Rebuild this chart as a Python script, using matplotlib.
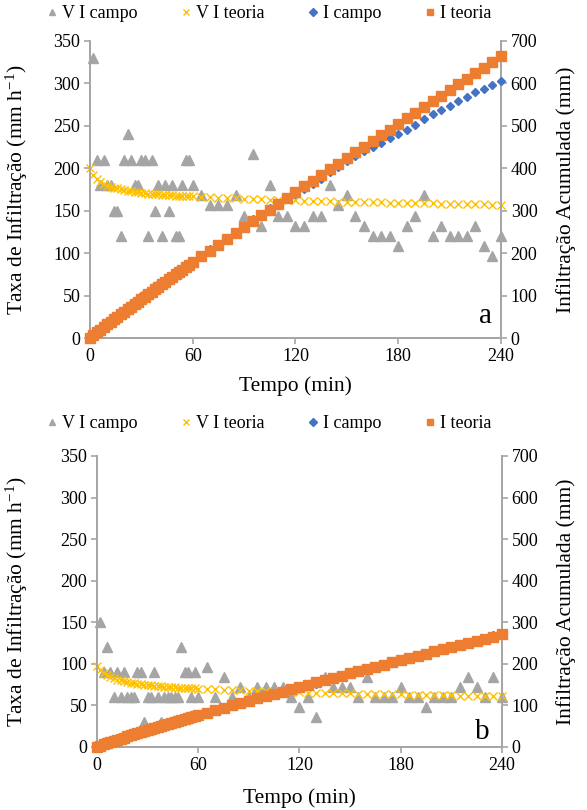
import matplotlib
matplotlib.use("Agg")
import matplotlib.pyplot as plt
from matplotlib.lines import Line2D

plt.rcParams["font.family"] = "serif"
plt.rcParams["font.serif"] = ["Liberation Serif", "DejaVu Serif"]
plt.rcParams["mathtext.fontset"] = "custom"
plt.rcParams["mathtext.rm"] = "Liberation Serif"
plt.rcParams["mathtext.it"] = "Liberation Serif:italic"

# -------------------------
# Data
# -------------------------
# field readings: every 2 min up to 60, then every 5 min
t_campo = list(range(2, 62, 2)) + list(range(65, 245, 5))
# theory curves: from 0, every 2 min up to 60, then every 5 min
t_teoria = list(range(0, 62, 2)) + list(range(65, 245, 5))

# panel a
vi_campo_a = [330, 210, 180, 210, 180, 180, 150, 150, 120, 210,
              240, 210, 180, 180, 210, 210, 120, 210, 150, 180,
              120, 180, 150, 180, 120, 120, 180, 210, 210, 180,
              168, 156, 156, 156, 168, 144, 216, 132, 180, 144,
              144, 132, 132, 144, 144, 180, 156, 168, 144, 132,
              120, 120, 120, 108, 132, 144, 168, 120, 132, 120,
              120, 120, 132, 108, 96, 120]
i_campo_a = [11, 18, 24, 31, 37, 43, 48, 53, 57, 64,
             72, 79, 85, 91, 98, 105, 109, 116, 121, 127,
             131, 137, 142, 148, 152, 156, 162, 169, 176, 182,
             196, 209, 222, 235, 249, 261, 279, 290, 305, 317,
             329, 340, 351, 363, 375, 390, 403, 417, 429, 440,
             450, 460, 470, 479, 490, 502, 516, 526, 537, 547,
             557, 567, 578, 587, 595, 605]
vi_teoria_a = [200, 192, 187, 184, 181, 179, 178, 177, 176, 175,
               174, 173, 172.5, 172, 171.5, 171, 170.5, 170, 169.7, 169.4,
               169, 168.7, 168.4, 168.1, 167.8, 167.5, 167.3, 167.1, 166.9, 166.7,
               166.5, 166, 165.5, 165, 164.6, 164.2, 163.8, 163.5, 163.2, 162.9,
               162.6, 162.3, 162, 161.7, 161.4, 161.1, 160.8, 160.5, 160.3, 160.1,
               159.9, 159.7, 159.5, 159.3, 159.1, 158.9, 158.7, 158.5, 158.3, 158.1,
               157.9, 157.7, 157.5, 157.3, 157.1, 156.9, 156.7]
i_teoria_a = [0, 6.6, 13, 19.4, 25.6, 31.8, 37.9, 44, 50, 56,
              62, 68, 74, 79.9, 85.8, 91.7, 97.6, 103.4, 109.2, 115,
              120.8, 126.6, 132.4, 138.1, 143.8, 149.5, 155.2, 160.9, 166.6, 172.3,
              178, 191.9, 205.8, 219.6, 233.4, 247.2, 261, 274.8, 288.5, 302.2,
              315.9, 329.6, 343.3, 357, 370.4, 383.7, 397, 410.3, 423.6, 436.9,
              450.2, 463.5, 476.8, 490.1, 503.4, 516.7, 530, 543.3, 556.6, 569.9,
              583.2, 596.5, 609.8, 623.1, 636.4, 649.7, 663]

# panel b
vi_campo_b = [150, 90, 120, 90, 60, 90, 60, 90, 60, 60,
              60, 90, 90, 30, 60, 60, 90, 60, 30, 60,
              60, 60, 60, 60, 120, 90, 90, 60, 90, 60,
              96, 60, 84, 60, 72, 60, 72, 72, 72, 72,
              60, 48, 60, 36, 84, 72, 72, 72, 60, 84,
              60, 60, 60, 72, 60, 60, 48, 60, 60, 60,
              72, 84, 72, 60, 84, 60]
i_campo_b = [5, 8, 12, 15, 17, 20, 22, 25, 27, 29,
             31, 34, 37, 38, 40, 42, 45, 47, 48, 50,
             52, 54, 56, 58, 62, 65, 68, 70, 73, 75,
             83, 88, 95, 100, 106, 111, 117, 123, 129, 135,
             140, 144, 149, 152, 159, 165, 171, 177, 182, 189,
             194, 199, 204, 210, 215, 220, 224, 229, 234, 239,
             245, 252, 258, 263, 270, 275]
vi_teoria_b = [97, 92, 88.5, 86, 84, 82.5, 81, 80, 79, 78.2,
               77.5, 76.8, 76.2, 75.6, 75.1, 74.6, 74.2, 73.8, 73.4, 73,
               72.7, 72.4, 72.1, 71.8, 71.5, 71.3, 71, 70.8, 70.6, 70.4,
               70.2, 69.7, 69.2, 68.8, 68.4, 68, 67.6, 67.3, 67, 66.7,
               66.4, 66.1, 65.8, 65.5, 65.3, 65.1, 64.9, 64.7, 64.5, 64.3,
               64.1, 63.9, 63.7, 63.5, 63.3, 63.1, 62.9, 62.7, 62.5, 62.3,
               62.1, 61.9, 61.7, 61.5, 61.3, 61.1, 60.9]
i_teoria_b = [0, 3.2, 6.2, 9.1, 11.9, 14.7, 17.4, 20.1, 22.8, 25.4,
              28, 30.6, 33.1, 35.6, 38.1, 40.6, 43.1, 45.6, 48.1, 50.5,
              52.9, 55.3, 57.7, 60.1, 62.5, 64.9, 67.3, 69.7, 72.1, 74.5,
              76.8, 82.6, 88.4, 94.1, 99.8, 105.5, 111.1, 116.7, 122.3, 127.9,
              133.4, 138.9, 144.4, 149.9, 155.3, 160.7, 166.1, 171.5, 176.9, 182.3,
              187.6, 192.9, 198.2, 203.5, 208.8, 214.1, 219.3, 224.5, 229.7, 234.9,
              240.1, 245.3, 250.4, 255.5, 260.6, 265.7, 271.5]

x_ticks = [0, 60, 120, 180, 240]
left_ticks = [0, 50, 100, 150, 200, 250, 300, 350]
right_ticks = [0, 100, 200, 300, 400, 500, 600, 700]

C_TRI = "#A5A5A5"
C_X = "#FFC000"
C_DIA = "#4472C4"
C_SQ = "#ED7D31"
C_AX = "#A6A6A6"
FS = 13      # ticks and legend
FS_LAB = 15.5  # axis titles

fig = plt.figure(figsize=(5.87, 8.10), dpi=100)


def draw_panel(rect, vc, vt, ic, it, letter, letter_xy):
    ax = fig.add_axes(rect)
    ax2 = ax.twinx()

    ax.plot(t_campo, vc, ls="none", marker="^", ms=6.5, color=C_TRI,
            mec=C_TRI, clip_on=False, zorder=3)
    ax.plot(t_teoria, vt, ls="none", marker="x", ms=5.5, mew=1.0,
            color=C_X, clip_on=False, zorder=4)
    ax2.plot(t_campo, ic, ls="none", marker="D", ms=4.2, color=C_DIA,
             clip_on=False, zorder=3)
    ax2.plot(t_teoria, it, ls="none", marker="s", ms=6.5, color=C_SQ,
             clip_on=False, zorder=4)

    ax.set_xlim(0, 240)
    ax.set_ylim(0, 350)
    ax2.set_ylim(0, 700)
    ax.set_xticks(x_ticks)
    ax.set_yticks(left_ticks)
    ax2.set_yticks(right_ticks)

    for a in (ax, ax2):
        a.spines["top"].set_visible(False)
        for s in ("left", "right", "bottom"):
            a.spines[s].set_color(C_AX)
            a.spines[s].set_linewidth(1.3)
        a.tick_params(colors=C_AX, labelcolor="black", labelsize=FS,
                      length=4, width=1.2, direction="out", pad=3)

    ax.set_xlabel("Tempo (min)", fontsize=FS_LAB)
    ax.set_ylabel("Taxa de Infiltração (mm h$^{-1}$)", fontsize=FS_LAB)
    ax2.set_ylabel("Infiltração Acumulada (mm)", fontsize=FS_LAB)
    ax.text(letter_xy[0], letter_xy[1], letter, transform=ax.transAxes,
            fontsize=21, ha="right", va="baseline")
    return ax, ax2


ax_a, ax2_a = draw_panel([0.1533, 0.5827, 0.7002, 0.3673],
                         vi_campo_a, vi_teoria_a, i_campo_a, i_teoria_a,
                         "a", (0.978, 0.05))
ax_b, ax2_b = draw_panel([0.1652, 0.0778, 0.6898, 0.3593],
                         vi_campo_b, vi_teoria_b, i_campo_b, i_teoria_b,
                         "b", (0.97, 0.028))

ax_a.yaxis.set_label_coords(-0.146, 0.5)
ax2_a.yaxis.set_label_coords(1.134, 0.5)
ax_a.xaxis.set_label_coords(0.5, -0.128)
ax_b.yaxis.set_label_coords(-0.165, 0.5)
ax2_b.yaxis.set_label_coords(1.133, 0.5)
ax_b.xaxis.set_label_coords(0.5, -0.142)

handles = [
    Line2D([], [], ls="none", marker="^", ms=5, color=C_TRI),
    Line2D([], [], ls="none", marker="x", ms=5, mew=1.0, color=C_X),
    Line2D([], [], ls="none", marker="D", ms=4, color=C_DIA),
    Line2D([], [], ls="none", marker="s", ms=5, color=C_SQ),
]
labels = ["V I campo", "V I teoria", "I campo", "I teoria"]

for ycen in (1 - 14 / 810, 1 - 424 / 810):
    fig.legend(handles, labels, loc="center", bbox_to_anchor=(0.458, ycen),
               ncol=4, frameon=False, fontsize=FS, handlelength=0.6,
               handletextpad=0.25, columnspacing=2.4, borderpad=0.1)

fig.savefig("out.png", dpi=100)
